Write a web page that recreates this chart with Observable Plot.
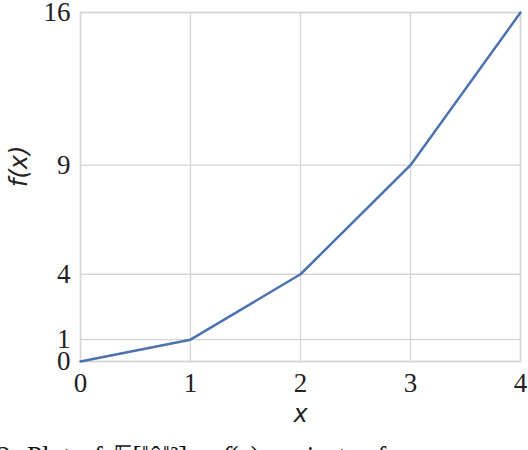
<!DOCTYPE html>
<html>
<head>
<meta charset="utf-8">
<script src="https://cdn.jsdelivr.net/npm/d3@7"></script>
<script src="https://cdn.jsdelivr.net/npm/@observablehq/plot@0.6"></script>
<style>
  html, body { margin: 0; padding: 0; background: #fff; overflow: hidden; width: 528px; height: 450px; }
  #wrap { position: relative; width: 528px; height: 450px; overflow: hidden; }
  #caption { position: absolute; left: -3px; top: 443px; font-family: "Liberation Serif", serif; font-size: 27px; line-height: 27px; white-space: nowrap; color: #111; word-spacing: 3px; }
</style>
</head>
<body>
<div id="wrap">
  <div id="chart"></div>
  <div id="caption">2. Plot of 𝔼[‖ĝ‖²] = <i>f</i>(<i>x</i>) against <i>x</i> for</div>
</div>
<script>
const xValues = [0, 1, 2, 3, 4];
const yValues = [0, 1, 4, 9, 16];
const xTicks = [0, 1, 2, 3, 4];
const yTicks = [0, 1, 4, 9, 16];

const data = xValues.map((x, i) => ({x, y: yValues[i]}));

const serif = "Liberation Serif";
const chart = Plot.plot({
  width: 528,
  height: 430,
  marginLeft: 80,
  marginRight: 8,
  marginTop: 12,
  marginBottom: 69,
  style: {fontFamily: serif, fontSize: "27px", color: "#222", background: "#fff", overflow: "visible"},
  x: {domain: [0, 4], ticks: xTicks, label: null},
  y: {domain: [0, 16], ticks: yTicks, label: null},
  marks: [
    Plot.gridX(xTicks, {stroke: "#d5d5d5", strokeOpacity: 1, strokeWidth: 1.3}),
    Plot.gridY(yTicks, {stroke: "#d5d5d5", strokeOpacity: 1, strokeWidth: 1.3}),
    Plot.frame({stroke: "#d5d5d5", strokeWidth: 1.5}),
    Plot.axisX(xTicks, {tickSize: 0, tickPadding: 11, fontSize: 27, fill: "#222", fontFamily: serif}),
    Plot.axisY(yTicks, {tickSize: 0, tickPadding: 10, fontSize: 27, fill: "#222", fontFamily: serif}),
    Plot.line(data, {x: "x", y: "y", stroke: "#4C72B0", strokeWidth: 2.5}),
    Plot.text(["x"], {frameAnchor: "bottom", dy: 43, text: d => d, fontFamily: "DejaVu Sans", fontStyle: "italic", fontSize: 24, fill: "#222", lineAnchor: "top"}),
    Plot.text(["f(x)"], {frameAnchor: "left", dx: -61, rotate: -90, text: d => d, fontFamily: "DejaVu Sans", fontStyle: "italic", fontSize: 24, fill: "#222"})
  ]
});
document.getElementById("chart").appendChild(chart);
</script>
</body>
</html>
